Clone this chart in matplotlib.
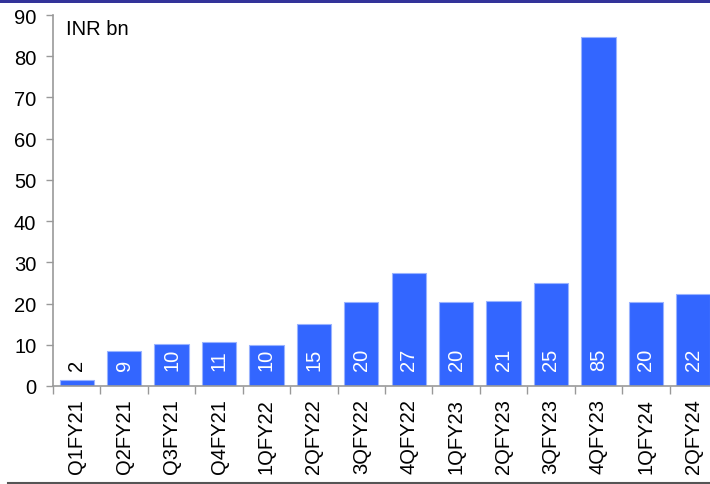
import matplotlib.pyplot as plt
from matplotlib.lines import Line2D
from matplotlib.patches import Rectangle

plt.rcParams['font.family'] = ['Liberation Sans', 'DejaVu Sans']

quarters = ['Q1FY21', 'Q2FY21', 'Q3FY21', 'Q4FY21', '1QFY22', '2QFY22', '3QFY22',
            '4QFY22', '1QFY23', '2QFY23', '3QFY23', '4QFY23', '1QFY24', '2QFY24']
values = [1.5, 8.5, 10.2, 10.6, 10.0, 15.1, 20.3, 27.3, 20.4, 20.6, 25.1, 84.6, 20.4, 22.2]
labels = ['2', '9', '10', '11', '10', '15', '20', '27', '20', '21', '25', '85', '20', '22']

fig = plt.figure(figsize=(7.1, 4.85), dpi=100)
ax = fig.add_axes([53/710, 98/485, 664/710, 371/485])

x = range(len(quarters))
ax.bar(x, values, width=0.72, color='#3366FF', edgecolor='#99B3FF', linewidth=0.8)

for i, (v, lab) in enumerate(zip(values, labels)):
    if v < 4:
        ax.text(i, v + 2.5, lab, rotation=90, ha='center', va='bottom',
                fontsize=14.5, color='black')
    else:
        ax.text(i, 4.0, lab, rotation=90, ha='center', va='bottom',
                fontsize=14.5, color='white')

ax.set_xlim(-0.5, len(quarters) - 0.5)
ax.set_ylim(0, 90)
ax.set_yticks(range(0, 91, 10))
ax.set_xticks(list(x))
ax.set_xticklabels(quarters, rotation=90, fontsize=14.5)
ax.set_xticks([i - 0.5 for i in range(len(quarters) + 1)], minor=True)
ax.tick_params(axis='x', which='major', length=0, pad=9)
ax.tick_params(axis='x', which='minor', length=6, color='#999999', width=1)
ax.tick_params(axis='y', length=5, color='#999999', width=1, labelsize=14.5, pad=7)

for s in ['top', 'right']:
    ax.spines[s].set_visible(False)
for s in ['left', 'bottom']:
    ax.spines[s].set_color('#999999')
    ax.spines[s].set_linewidth(1.2)

ax.text(0.02, 0.99, 'INR bn', transform=ax.transAxes, fontsize=14.5,
        ha='left', va='top')

fig.add_artist(Rectangle((0, 1 - 4/485), 1, 4/485, transform=fig.transFigure,
                         color='#333399', lw=0))
fig.add_artist(Line2D([8/710, 1], [1.5/485, 1.5/485], transform=fig.transFigure,
                      color='#555555', lw=1.5))

fig.savefig('out.png', dpi=100)
